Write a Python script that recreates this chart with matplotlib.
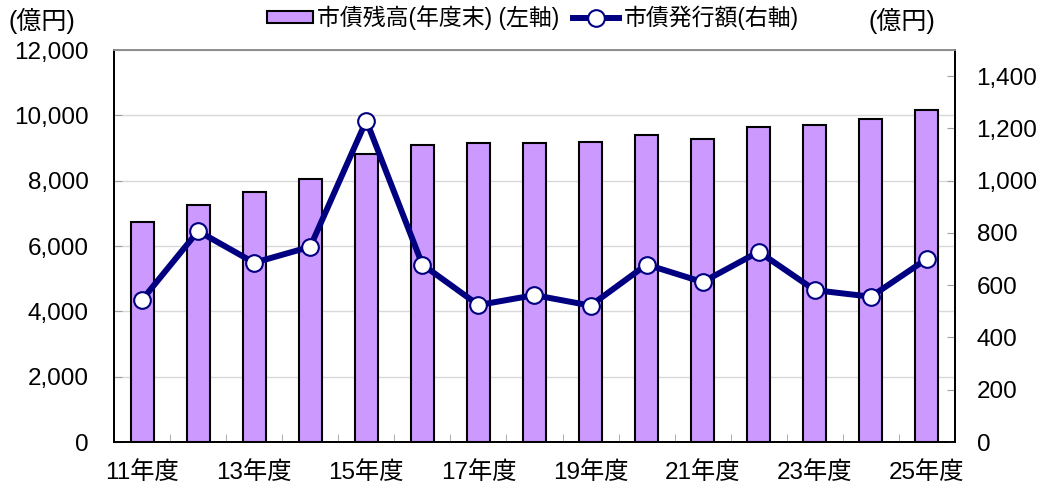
import matplotlib
matplotlib.use("Agg")
import matplotlib.pyplot as plt
from matplotlib.ticker import FuncFormatter, FixedLocator
from matplotlib.lines import Line2D
from matplotlib.patches import Patch

plt.rcParams['font.family'] = ['Liberation Sans', 'Noto Sans CJK JP', 'DejaVu Sans']

categories = ["11年度", "12年度", "13年度", "14年度", "15年度", "16年度", "17年度", "18年度",
              "19年度", "20年度", "21年度", "22年度", "23年度", "24年度", "25年度"]
balance = [6720, 7270, 7660, 8050, 8810, 9085, 9145, 9140, 9185, 9410, 9290, 9650, 9705, 9890, 10150]
issuance = [544, 807, 686, 747, 1230, 679, 524, 562, 522, 679, 612, 728, 581, 556, 701]
label_bar = "市債残高(年度末) (左軸)"
label_line = "市債発行額(右軸)"
unit = "(億円)"

fig = plt.figure(figsize=(10.46, 4.86), dpi=100)
ax = fig.add_axes([114/1046, 44/486, (955-114)/1046, (442-50)/486])
ax2 = ax.twinx()

x = list(range(len(categories)))
ax.bar(x, balance, width=0.41, color="#CC99FF", edgecolor="black", linewidth=1.5, zorder=3)
ax.set_xlim(-0.5, len(categories) - 0.5)
ax.set_ylim(0, 12000)
ax.set_yticks(range(0, 12001, 2000))
ax.yaxis.set_major_formatter(FuncFormatter(lambda v, p: f"{int(v):,}"))
ax.grid(axis="y", color="#D9D9D9", linewidth=1, zorder=0)
ax.set_axisbelow(True)

ax.set_xticks(x[::2])
ax.set_xticklabels(categories[::2])
ax.xaxis.set_minor_locator(FixedLocator([i + 0.5 for i in range(len(categories) - 1)]))
ax.tick_params(axis="x", which="major", length=0, pad=14, labelsize=17.5)
ax.tick_params(axis="x", which="minor", direction="in", length=6, color="#A0A0A0")
ax.tick_params(axis="y", direction="in", length=6, color="#A0A0A0", pad=18, labelsize=17.5)

ax2.plot(x, issuance, color="#000080", linewidth=4.3, marker="o", markersize=12,
         markerfacecolor="white", markeredgecolor="#000080", markeredgewidth=1.5, zorder=5)
ax2.set_ylim(0, 1500)
ax2.set_yticks(range(0, 1401, 200))
ax2.yaxis.set_major_formatter(FuncFormatter(lambda v, p: f"{int(v):,}"))
ax2.tick_params(axis="y", direction="in", length=6, color="#A0A0A0", pad=15.5, labelsize=17.5)

for a in (ax, ax2):
    a.spines["top"].set_color("#909090")
    a.spines["left"].set_color("black")
    a.spines["right"].set_color("black")
    a.spines["bottom"].set_color("black")
    for s in a.spines.values():
        s.set_linewidth(1.3)

fig.text(8/1046, 1 - 21/486, unit, fontsize=18, ha="left", va="center")
fig.text(868/1046, 1 - 21/486, unit, fontsize=18, ha="left", va="center")

handles = [Patch(facecolor="#CC99FF", edgecolor="black", linewidth=1.5),
           Line2D([0], [0], color="#000080", linewidth=4.3, marker="o", markersize=12,
                  markerfacecolor="white", markeredgecolor="#000080", markeredgewidth=1.5)]
fig.legend(handles, [label_bar, label_line], loc="center", bbox_to_anchor=(533/1046, 1 - 18/486),
           ncol=2, frameon=False, fontsize=16.5, handlelength=2.0, handleheight=0.45,
           handletextpad=0.2, columnspacing=0.6, borderpad=0)

fig.savefig("out.png", dpi=100)
